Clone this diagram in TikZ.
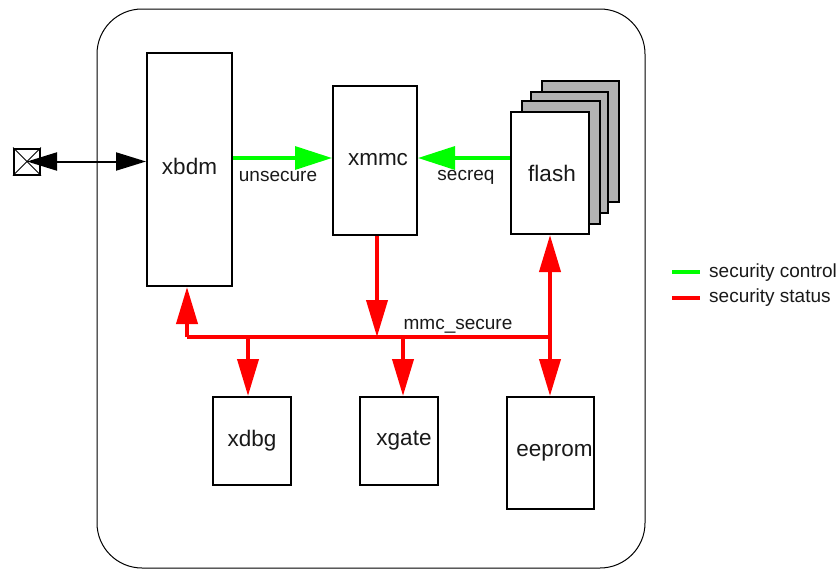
\documentclass[tikz,border=0pt]{standalone}
\usepackage{fontspec}
\setmainfont{Liberation Sans}
\usetikzlibrary{arrows.meta}
\definecolor{secgreen}{RGB}{0,255,0}
\definecolor{secred}{RGB}{255,0,0}
\definecolor{sheetgray}{RGB}{179,179,179}
\definecolor{txt}{RGB}{25,25,25}
\begin{document}
\begin{tikzpicture}[x=1pt,y=-1pt,
  blk/.style={draw=black,line width=2pt,fill=white,inner sep=0pt,text=txt,font=\fontsize{22.5}{26}\selectfont},
  sheet/.style={draw=black,line width=2pt,fill=sheetgray},
  ctl/.style={draw=secgreen,line width=3.3pt},
  sts/.style={draw=secred,line width=4pt},
  gtip/.style={-{Triangle[length=37pt,width=23pt]}},
  rtip/.style={-{Triangle[length=37pt,width=21pt]}},
  rtips/.style={{Triangle[length=37pt,width=21pt]}-{Triangle[length=37pt,width=21pt]}},
  btips/.style={{Triangle[length=30pt,width=18pt]}-{Triangle[length=30pt,width=18pt]}},
  lbl/.style={font=\fontsize{19}{22}\selectfont,inner sep=0pt,text=txt,anchor=base}
]
\useasboundingbox (0,0) rectangle (838,570);
% outer frame
\draw[line width=1pt,rounded corners=45pt] (97,9) rectangle (645,568);

% flash stack (back sheets)
\draw[sheet] (541.7,80.7) rectangle (619,201.7);
\draw[sheet] (530.7,91.7) rectangle (608,213);
\draw[sheet] (521.7,101) rectangle (600,224);

% blocks
\node[blk,minimum width=85pt,minimum height=233pt] (xbdm) at (189.5,169.5) {\raisebox{6pt}{xbdm}};
\node[blk,minimum width=84pt,minimum height=149pt] (xmmc) at (375,160.5) {\raisebox{2pt}{\hspace*{6pt}xmmc}};
\node[blk,minimum width=78pt,minimum height=122pt] (flash) at (550,173) {\hspace*{4pt}flash};
\node[blk,minimum width=78pt,minimum height=88pt] (xdbg) at (252,441) {xdbg};
\node[blk,minimum width=78pt,minimum height=88pt] (xgate) at (399,441) {\raisebox{3pt}{\hspace*{10pt}xgate}};
\node[blk,minimum width=87pt,minimum height=112pt] (eeprom) at (550.5,453) {\raisebox{-2pt}{\hspace*{8pt}eeprom}};

% terminal
\node[draw=black,line width=2pt,minimum size=26pt,inner sep=0pt] (term) at (27,161.5) {};
\draw[line width=0.8pt] (term.north west) -- (term.south east);
\draw[line width=0.8pt] (term.north east) -- (term.south west);
\draw[line width=2pt,btips] (term.center) -- (term.center -| xbdm.west);

% security control (green)
\coordinate (gy) at (0,158);
\draw[ctl,gtip] (gy -| xbdm.east) -- (gy -| xmmc.west);
\draw[ctl,gtip] (gy -| flash.west) -- (gy -| xmmc.east);
\node[lbl] (unsec) at (278,181.5) {unsecure};
\node[lbl] (secreq) at (466,180) {secreq};

% security status (red)
\coordinate (bL) at (187,337);
\coordinate (bR) at (550,337);
\draw[sts] (bL) -- (bR);
\draw[sts,rtip] (bL) -- (bL |- xbdm.south);
\draw[sts,rtip] (377,0 |- xmmc.south) -- (377,337);
\draw[sts,rtip] (248,337) -- (248,0 |- xdbg.north);
\draw[sts,rtip] (403,337) -- (403,0 |- xgate.north);
\draw[sts,rtips] (flash.south) -- (flash.south |- eeprom.north);
\node[lbl] (mmcsec) at (458,329) {mmc\_secure};

% legend
\coordinate (lg1) at (672,272);
\coordinate (lg2) at (672,297.5);
\draw[ctl] (lg1) -- ++(28,0);
\draw[sts] (lg2) -- ++(28,0);
\node[lbl,anchor=base west] (lgt1) at (709,277) {security control};
\node[lbl,anchor=base west] (lgt2) at (709,302) {security status};
\end{tikzpicture}
\end{document}
